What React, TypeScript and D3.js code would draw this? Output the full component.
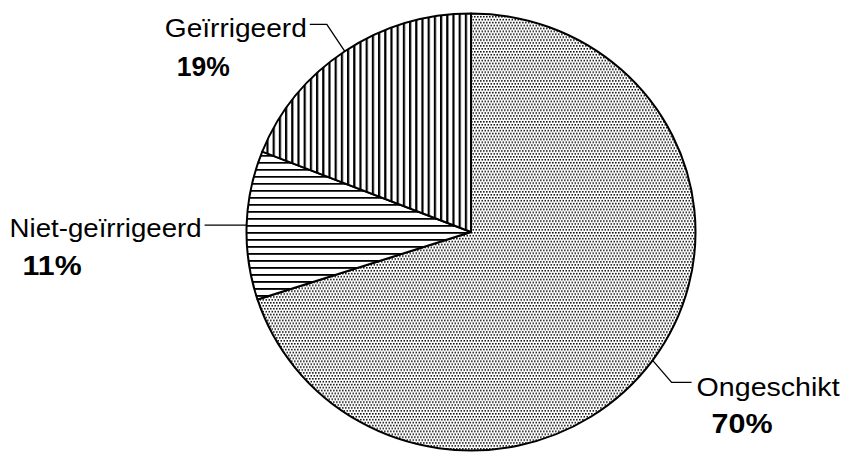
import * as d3 from 'd3';

// Pie data (share of area, %)
const categories = ['Ongeschikt', 'Niet-geïrrigeerd', 'Geïrrigeerd'];
const shares = [70, 11, 19];
const pctLabels = ['70%', '11%', '19%'];

interface Slice {
    name: string;
    value: number;
    pct: string;
}

const W = 846;
const H = 457;
const cx = 471;
const cy = 232;
const rx = 224.5;
const ry = 218.5;
const k = ry / rx; // the original is slightly squashed vertically

// label layout, offsets from the rim point at each slice's mid angle
const labelLayout: Record<string, any> = {
    'Ongeschikt': { elbow: [19, 22], end: [39, 22], name: [44, 36], anchor: 'start', nameLen: 143, pct: [59, 73], pctLen: 61 },
    'Niet-geïrrigeerd': { elbow: [-20, 0], end: [-42, 0], name: [-45, 12], anchor: 'end', nameLen: 192, pct: [-224, 50], pctLen: 59 },
    'Geïrrigeerd': { elbow: [-18, -27], end: [-35, -27], name: [-38, -14], anchor: 'end', nameLen: 142, pct: [-168, 25], pctLen: 53 },
};

const fills: Record<string, string> = {
    'Ongeschikt': 'url(#dots)',
    'Niet-geïrrigeerd': 'url(#hlines)',
    'Geïrrigeerd': 'url(#vlines)',
};

export default function App() {
    const data: Slice[] = categories.map((c, i) => ({ name: c, value: shares[i], pct: pctLabels[i] }));

    const pie = d3.pie<Slice>().sort(null).value(d => d.value);
    const arcs = pie(data);

    const arc = d3.arc<d3.PieArcDatum<Slice>>().innerRadius(0).outerRadius(rx);
    const rim = d3.arc<d3.PieArcDatum<Slice>>().innerRadius(rx).outerRadius(rx);

    return (
        <svg width={W} height={H} style={{ position: 'absolute', left: 0, top: 0, background: '#fff' }}
             fontFamily="'Liberation Sans', Arial, sans-serif">
            <defs>
                <pattern id="dots" patternUnits="userSpaceOnUse" width={3} height={6}>
                    <rect width={3} height={6} fill="#fff" />
                    <rect x={0} y={0} width={1.6} height={1.6} fill="#111" />
                    <rect x={1.5} y={3} width={1.6} height={1.6} fill="#111" />
                </pattern>
                <pattern id="vlines" patternUnits="userSpaceOnUse" width={6.2} height={10}>
                    <rect width={6.2} height={10} fill="#fff" />
                    <rect x={0} y={0} width={2.2} height={10} fill="#000" />
                </pattern>
                <pattern id="hlines" patternUnits="userSpaceOnUse" width={10} height={7.2}>
                    <rect width={10} height={7.2} fill="#fff" />
                    <rect x={0} y={0} width={10} height={1.8} fill="#000" />
                </pattern>
            </defs>

            <g transform={`translate(${cx},${cy}) scale(1,${k})`}>
                {arcs.map(d => (
                    <path key={d.data.name} d={arc(d) ?? ''} fill={fills[d.data.name]}
                          stroke="#000" strokeWidth={2} strokeLinejoin="round"
                          vectorEffect="non-scaling-stroke" />
                ))}
            </g>

            {arcs.map(d => {
                const [px, py] = rim.centroid(d);
                const ax = cx + px;
                const ay = cy + py * k;
                const L = labelLayout[d.data.name];
                const pts = [[ax, ay], [ax + L.elbow[0], ay + L.elbow[1]], [ax + L.end[0], ay + L.end[1]]];
                return (
                    <g key={d.data.name}>
                        <polyline points={pts.map(p => p.join(',')).join(' ')} fill="none" stroke="#000" strokeWidth={1.3} />
                        <text x={ax + L.name[0]} y={ay + L.name[1]} textAnchor={L.anchor} fontSize={26}
                              textLength={L.nameLen} lengthAdjust="spacingAndGlyphs" fill="#000">
                            {d.data.name}
                        </text>
                        <text x={ax + L.pct[0]} y={ay + L.pct[1]} fontSize={27} fontWeight="bold"
                              textLength={L.pctLen} lengthAdjust="spacingAndGlyphs" fill="#000">
                            {d.data.pct}
                        </text>
                    </g>
                );
            })}
        </svg>
    );
}
